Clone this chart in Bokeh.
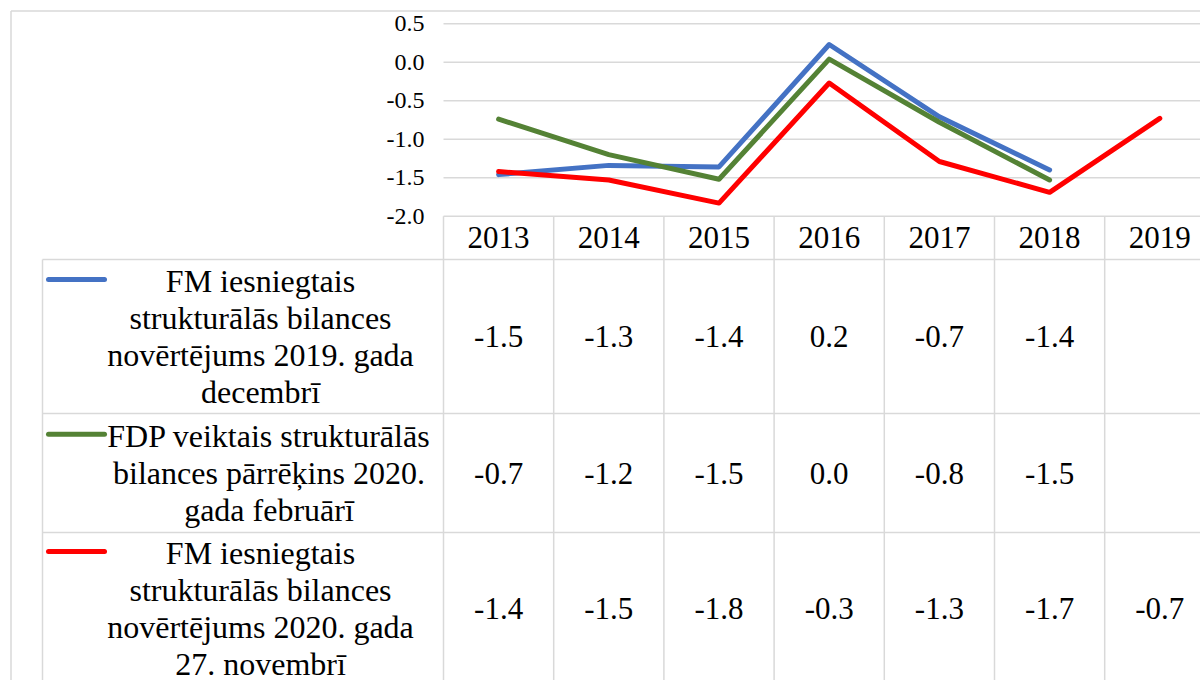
from bokeh.plotting import figure
from bokeh.embed import file_html
from bokeh.resources import INLINE
from bokeh.core.properties import value

# ---------------- data ----------------
years = ["2013", "2014", "2015", "2016", "2017", "2018", "2019"]
fm_dec_2019 = [-1.46, -1.34, -1.36, 0.23, -0.71, -1.40, None]
fdp_feb_2020 = [-0.74, -1.20, -1.52, 0.04, -0.78, -1.53, None]
fm_nov_2020 = [-1.42, -1.53, -1.83, -0.27, -1.29, -1.69, -0.73]
y_ticks = [0.5, 0.0, -0.5, -1.0, -1.5, -2.0]
legend_lines = [
    ["FM iesniegtais", "strukturālās bilances", "novērtējums 2019. gada", "decembrī"],
    ["FDP veiktais strukturālās", "bilances pārrēķins 2020.", "gada februārī"],
    ["FM iesniegtais", "strukturālās bilances", "novērtējums 2020. gada", "27. novembrī"],
]
series = [fm_dec_2019, fdp_feb_2020, fm_nov_2020]
colors = ["#4472C4", "#548235", "#FF0000"]

# ---------------- layout (page pixels) ----------------
W, H = 1200, 680
OFF = 0
COL_LEFT = 443.0
COL_W = 110.2
ZERO_PX = 61.7
PX_PER_UNIT = 77.0
GRID = "#D9D9D9"
FONT = value("'Liberation Serif'")


def X(px):
    return -0.5 + (px - COL_LEFT) / COL_W


def Y(py):
    return (ZERO_PX - py) / PX_PER_UNIT


x0, x1 = X(OFF), X(OFF + W)
y0, y1 = Y(OFF + H), Y(OFF)

p = figure(width=W, height=H, x_range=(x0, x1), y_range=(y0, y1),
           output_backend="svg", toolbar_location=None,
           x_axis_type=None, y_axis_type=None, min_border=0,
           outline_line_color=None, background_fill_color="white",
           border_fill_color="white")

y_min = min(y_ticks)
ncol = len(years)

# outer chart border
p.segment(x0=[X(10.5)], y0=[Y(10.5)], x1=[x1], y1=[Y(10.5)], line_color=GRID, line_width=1.5)
p.segment(x0=[X(10.5)], y0=[Y(10.5)], x1=[X(10.5)], y1=[y0], line_color=GRID, line_width=1.5)

# horizontal gridlines
grid_vals = [t for t in y_ticks if t > y_min]
p.segment(x0=[-0.5] * len(grid_vals), y0=grid_vals, x1=[x1] * len(grid_vals), y1=grid_vals,
          line_color=GRID, line_width=1.5)

# data table lines
row_edges = [259, 413, 532]
p.segment(x0=[-0.5], y0=[y_min], x1=[x1], y1=[y_min], line_color=GRID, line_width=1.5)
p.segment(x0=[X(42)] * 3, y0=[Y(r) for r in row_edges], x1=[x1] * 3,
          y1=[Y(r) for r in row_edges], line_color=GRID, line_width=1.5)
vx = [i - 0.5 for i in range(ncol + 1)]
p.segment(x0=vx, y0=[y_min] * len(vx), x1=vx, y1=[y0] * len(vx), line_color=GRID, line_width=1.5)
p.segment(x0=[X(42)], y0=[Y(259)], x1=[X(42)], y1=[y0], line_color=GRID, line_width=1.5)

# y tick labels
p.text(x=[X(424)] * len(y_ticks), y=y_ticks, text=[f"{t:.1f}" for t in y_ticks],
       text_align="right", text_baseline="middle", text_font=FONT,
       text_font_size="24px", text_color="black")

# year header
p.text(x=list(range(ncol)), y=[Y(237)] * ncol, text=years, text_align="center",
       text_baseline="middle", text_font=FONT, text_font_size="31px", text_color="black")

# series lines
for vals, c in zip(series, colors):
    xs = [i for i, v in enumerate(vals) if v is not None]
    ys = [v for v in vals if v is not None]
    p.line(xs, ys, line_color=c, line_width=5, line_join="round", line_cap="round")

# table rows: legend keys, legend text, values
row_centers = [336, 472.5, 608]
text_centers = [260, 268.5, 260]
LINE_H = 36.7
for r, (vals, c, lines) in enumerate(zip(series, colors, legend_lines)):
    cy = row_centers[r]
    n = len(lines)
    ys = [cy + (i - (n - 1) / 2) * LINE_H for i in range(n)]
    p.text(x=[X(text_centers[r])] * n, y=[Y(v) for v in ys], text=lines,
           text_align="center", text_baseline="middle", text_font=FONT,
           text_font_size="32px", text_color="black")
    ky = ys[0] - 2
    p.segment(x0=[X(48)], y0=[Y(ky)], x1=[X(104)], y1=[Y(ky)], line_color=c,
              line_width=5, line_cap="round")
    xs = [i for i, v in enumerate(vals) if v is not None]
    p.text(x=xs, y=[Y(cy)] * len(xs), text=[f"{v:.1f}" for v in vals if v is not None],
           text_align="center", text_baseline="middle", text_font=FONT,
           text_font_size="31px", text_color="black")

open("out.html", "w").write(file_html(p, INLINE))
